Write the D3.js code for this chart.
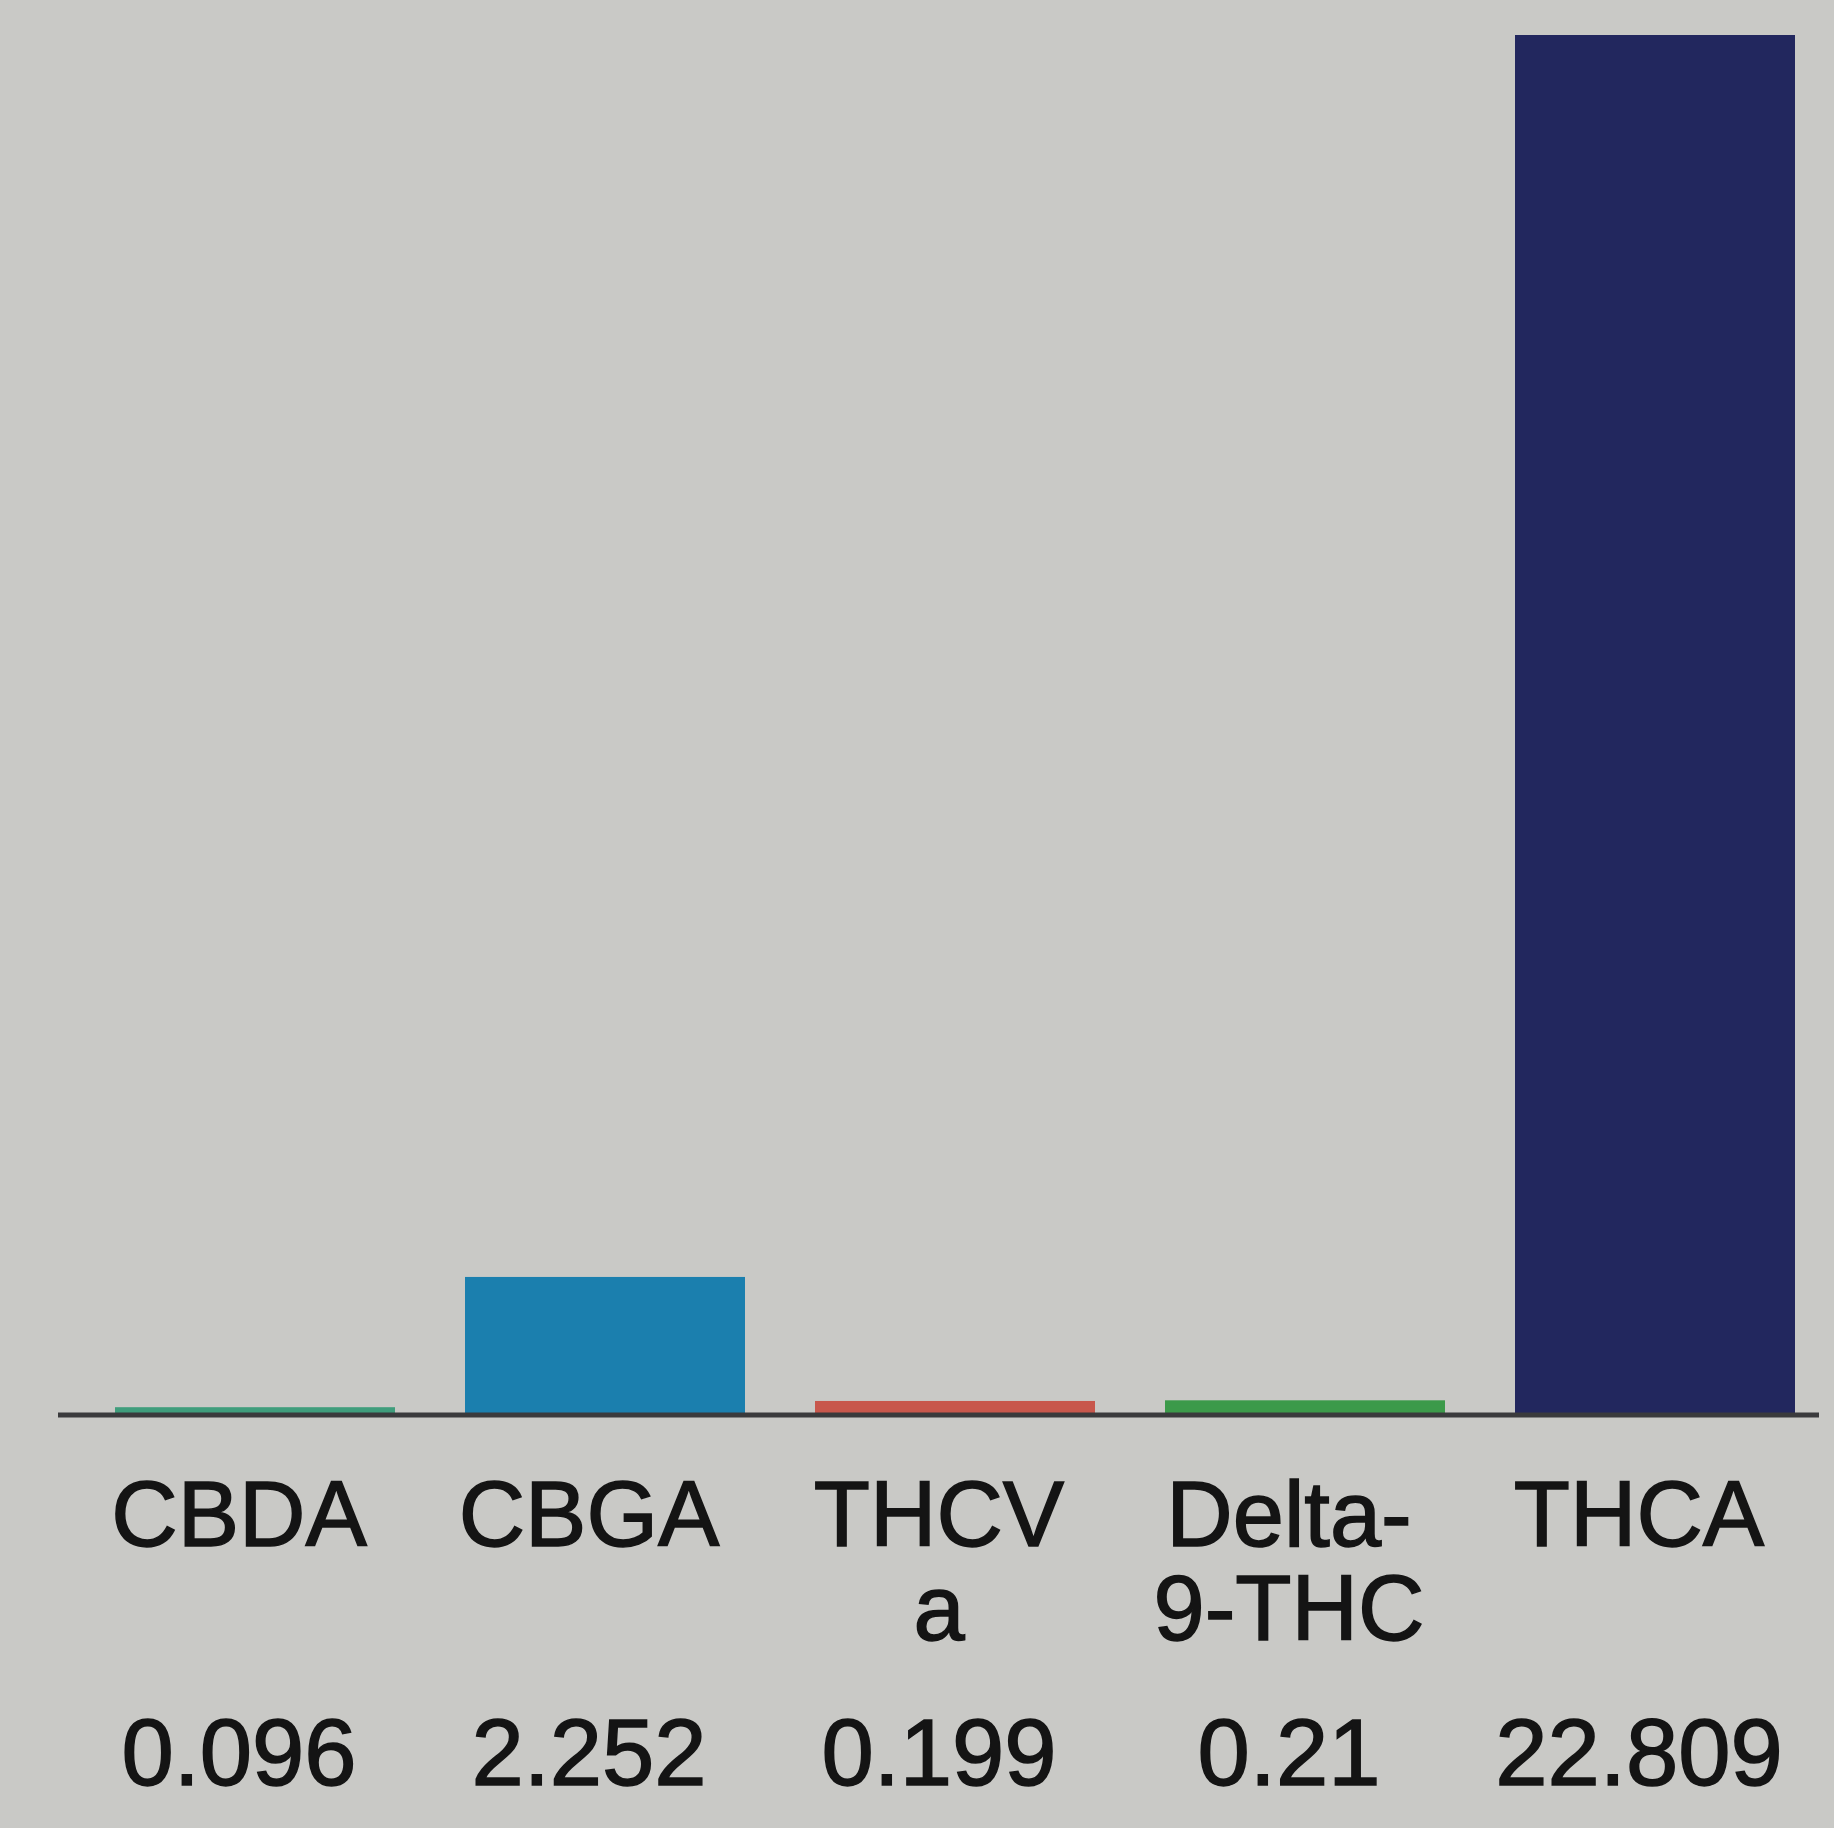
<!DOCTYPE html>
<html>
<head>
<meta charset="utf-8">
<script src="https://cdn.jsdelivr.net/npm/d3@7"></script>
<style>
  html, body { margin: 0; padding: 0; background: #c9c9c6; }
  svg { display: block; }
</style>
</head>
<body>
<div id="chart"></div>
<script>
// chart data
const categories = ["CBDA", "CBGA", "THCV a", "Delta- 9-THC", "THCA"];
const labelLines = [["CBDA"], ["CBGA"], ["THCV", "a"], ["Delta-", "9-THC"], ["THCA"]];
const values = [0.096, 2.252, 0.199, 0.21, 22.809];
const valueLabels = ["0.096", "2.252", "0.199", "0.21", "22.809"];
const barColors = ["#3f9d7c", "#1b7fae", "#c8574c", "#3c9a4a", "#22275e"];

const W = 1834, H = 1828;
const baseY = 1413, topY = 35;

const svg = d3.select("#chart").append("svg")
  .attr("width", W)
  .attr("height", H);

svg.append("rect")
  .attr("width", W).attr("height", H)
  .attr("fill", "#c9c9c6");

const x = d3.scaleBand()
  .domain(categories)
  .range([80, 1830])
  .paddingInner(0.2)
  .paddingOuter(0.1);

const y = d3.scaleLinear()
  .domain([0, d3.max(values)])
  .range([baseY, topY]);

// bars
svg.selectAll("rect.bar")
  .data(categories)
  .enter()
  .append("rect")
  .attr("class", "bar")
  .attr("x", d => x(d))
  .attr("y", (d, i) => y(values[i]))
  .attr("width", x.bandwidth())
  .attr("height", (d, i) => baseY - y(values[i]))
  .attr("fill", (d, i) => barColors[i]);

// baseline
svg.append("line")
  .attr("x1", 58).attr("x2", 1819)
  .attr("y1", y(0) + 2).attr("y2", y(0) + 2)
  .attr("stroke", "#3a3a3c")
  .attr("stroke-width", 5);

// category labels, two-line ones stacked
const labels = svg.append("g")
  .attr("font-family", "'Liberation Sans', Arial, sans-serif")
  .attr("font-size", 92)
  .attr("fill", "#141414")
  .attr("stroke", "#141414")
  .attr("stroke-width", 1.5)
  .attr("text-anchor", "middle");

categories.forEach((c, i) => {
  const cx = x(c) + x.bandwidth() / 2 - 16;
  labels.append("text")
    .attr("x", cx)
    .attr("y", 1546)
    .selectAll("tspan")
    .data(labelLines[i])
    .enter()
    .append("tspan")
    .attr("x", cx)
    .attr("dy", (d, j) => j === 0 ? 0 : 94)
    .text(d => d);
  labels.append("text")
    .attr("x", cx)
    .attr("y", 1785)
    .attr("font-size", 94)
    .text(valueLabels[i]);
});
</script>
</body>
</html>
